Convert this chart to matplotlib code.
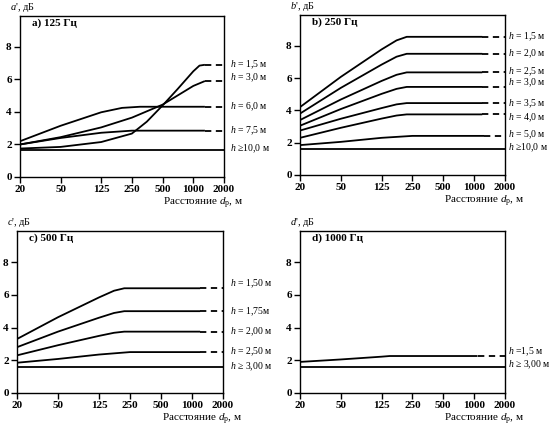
import matplotlib
matplotlib.use("Agg")
import matplotlib.pyplot as plt

plt.rcParams['font.family'] = ['Liberation Serif', 'DejaVu Serif']
plt.rcParams['mathtext.fontset'] = 'custom'
plt.rcParams['mathtext.rm'] = 'Liberation Serif'
plt.rcParams['mathtext.it'] = 'Liberation Serif:italic'

# x ticks (distance, m)
xticks = [20, 50, 125, 250, 500, 1000, 2000]
yticks = [0, 2, 4, 6, 8]

# a) 125 Hz
a_x15 = [20, 50, 125, 250, 350, 500, 700, 1000, 1150, 1300]
a_y15 = [1.75, 1.85, 2.15, 2.67, 3.4, 4.4, 5.4, 6.5, 6.85, 6.9]
a_x30 = [20, 50, 125, 250, 500, 1000, 1300]
a_y30 = [2.0, 2.45, 3.05, 3.65, 4.45, 5.6, 5.9]
a_x60 = [20, 50, 125, 200, 300, 1300]
a_y60 = [2.2, 3.15, 3.98, 4.25, 4.32, 4.32]
a_x75 = [20, 50, 125, 250, 1300]
a_y75 = [2.0, 2.4, 2.72, 2.85, 2.85]
a_x100 = [20, 2000]
a_y100 = [1.65, 1.65]
a_end = [6.9, 6.05, 4.32, 2.85, None]
a_labels = ["$h$ = 1,5 м", "$h$ = 3,0 м", "$h$ = 6,0 м", "$h$ = 7,5 м", "$h$ ≥10,0 м"]
a_label_y = [6.9, 6.1, 4.3, 2.83, 1.75]

# b) 250 Hz
b_x = [20, 50, 125, 175, 220, 1200]
b_y15 = [4.2, 6.07, 7.77, 8.33, 8.55, 8.55]
b_y20 = [3.8, 5.39, 6.83, 7.32, 7.5, 7.5]
b_y25 = [3.4, 4.67, 5.82, 6.2, 6.35, 6.35]
b_y30 = [3.05, 4.08, 5.02, 5.33, 5.45, 5.45]
b_y35 = [2.75, 3.48, 4.14, 4.37, 4.45, 4.45]
b_y40 = [2.3, 2.92, 3.49, 3.68, 3.75, 3.75]
b_x50 = [20, 50, 125, 250, 1250]
b_y50 = [1.85, 2.05, 2.3, 2.42, 2.42]
b_x100 = [20, 2000]
b_y100 = [1.62, 1.62]
b_labels = ["$h$ = 1,5 м", "$h$ = 2,0 м", "$h$ = 2,5 м", "$h$ = 3,0 м",
            "$h$ = 3,5 м", "$h$ = 4,0 м", "$h$ = 5,0 м", "$h$ ≥10,0 м"]
b_label_y = [8.55, 7.5, 6.38, 5.7, 4.4, 3.57, 2.46, 1.7]

# c) 500 Hz
c_x = [20, 50, 125, 175, 220, 1200]
c_y150 = [3.3, 4.63, 5.84, 6.25, 6.4, 6.4]
c_y175 = [2.8, 3.75, 4.6, 4.89, 5.0, 5.0]
c_y200 = [2.3, 2.92, 3.49, 3.68, 3.75, 3.75]
c_x250 = [20, 50, 125, 250, 1200]
c_y250 = [1.85, 2.08, 2.35, 2.5, 2.5]
c_x300 = [20, 2000]
c_y300 = [1.6, 1.6]
c_labels = ["$h$ = 1,50 м", "$h$ = 1,75м", "$h$ = 2,00 м", "$h$ = 2,50 м", "$h$ ≥ 3,00 м"]
c_label_y = [6.67, 4.98, 3.75, 2.54, 1.62]

# d) 1000 Hz
d_x15 = [20, 50, 125, 150, 1080]
d_y15 = [1.9, 2.05, 2.22, 2.26, 2.26]
d_x300 = [20, 2000]
d_y300 = [1.6, 1.6]
d_labels = ["$h$ =1,5 м", "$h$ ≥ 3,00 м"]
d_label_y = [2.52, 1.7]


def panel(ax, curves, labels, label_y, ylab, title, lab_x):
    for xs, ys in curves:
        ax.plot(xs, ys, color='black', lw=1.3, solid_capstyle='butt')
        if xs[-1] < 2000:
            ax.plot([xs[-1], 2000], [ys[-1], ys[-1]], color='black', lw=1.3,
                    linestyle=(0, (3.5, 2.5)))
    ax.set_xscale('log')
    ax.set_xlim(20, 2000)
    ax.set_ylim(0, 9.9)
    ax.set_xticks(xticks)
    ax.set_xticklabels([str(t) for t in xticks], fontweight='bold', fontsize=8)
    ax.minorticks_off()
    ax.set_yticks(yticks)
    ax.set_yticklabels([str(t) for t in yticks], fontweight='bold', fontsize=8)
    ax.tick_params(direction='out', length=4, width=1, pad=2)
    for s in ax.spines.values():
        s.set_linewidth(1.0)
    for txt, yy in zip(labels, label_y):
        ax.text(lab_x, yy, txt, transform=ax.get_yaxis_transform(),
                ha='left', va='center', fontsize=7, clip_on=False)
    ax.text(-0.05, 1.052, ylab, transform=ax.transAxes, ha='left', va='center',
            fontsize=7.5)
    ax.text(0.06, 0.955, title, transform=ax.transAxes, ha='left', va='center',
            fontsize=8, fontweight='bold')
    ax.text(0.9, -0.165, "Расстояние $d_\\mathrm{p}$, м", transform=ax.transAxes,
            ha='center', va='center', fontsize=8)


W, H = 554, 429
fig = plt.figure(figsize=(W / 100, H / 100), dpi=100)


def box(l, r, b, t):
    return [l / W, (H - b) / H, (r - l) / W, (b - t) / H]


ax_a = fig.add_axes(box(20, 224, 177, 16))
ax_b = fig.add_axes(box(300, 505, 175, 15))
ax_c = fig.add_axes(box(17, 223, 393, 231))
ax_d = fig.add_axes(box(300, 505, 393, 231))

panel(ax_a, [(a_x15, a_y15), (a_x30, a_y30), (a_x60, a_y60), (a_x75, a_y75), (a_x100, a_y100)],
      a_labels, a_label_y, "$a$', дБ", "a) 125 Гц", 1.03)
panel(ax_b, [(b_x, b_y15), (b_x, b_y20), (b_x, b_y25), (b_x, b_y30), (b_x, b_y35),
             (b_x, b_y40), (b_x50, b_y50), (b_x100, b_y100)],
      b_labels, b_label_y, "$b$', дБ", "b) 250 Гц", 1.015)
panel(ax_c, [(c_x, c_y150), (c_x, c_y175), (c_x, c_y200), (c_x250, c_y250), (c_x300, c_y300)],
      c_labels, c_label_y, "$c$', дБ", "c) 500 Гц", 1.034)
panel(ax_d, [(d_x15, d_y15), (d_x300, d_y300)],
      d_labels, d_label_y, "$d$', дБ", "d) 1000 Гц", 1.015)

fig.savefig("out.png", dpi=100)
